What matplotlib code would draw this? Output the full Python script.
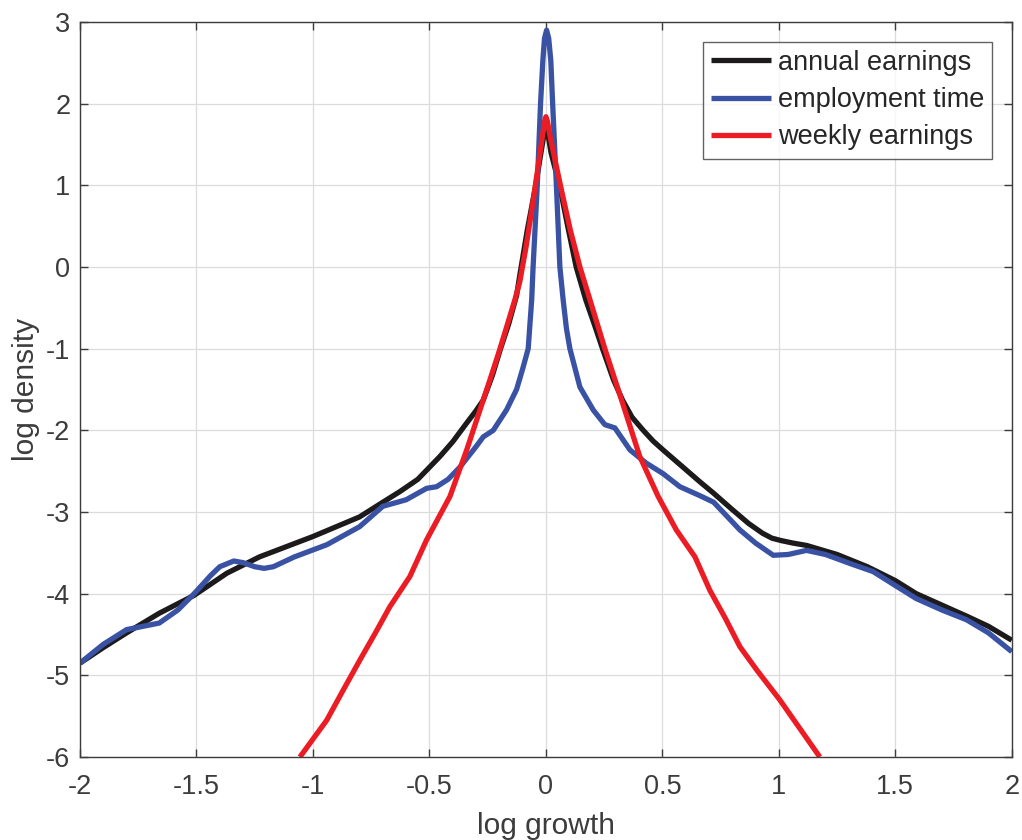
"""Log density of log growth: annual earnings, employment time, weekly earnings."""

import matplotlib
matplotlib.use("Agg")
import matplotlib.pyplot as plt

plt.rcParams["font.family"] = ["Liberation Sans", "DejaVu Sans"]

# values
annual_x = [-2.0, -1.9, -1.8, -1.66, -1.51, -1.37, -1.23, -1.0, -0.8, -0.7, -0.627, -0.55,
            -0.455, -0.4, -0.34, -0.3, -0.269, -0.23, -0.197, -0.16, -0.126, -0.112, -0.08,
            -0.045, -0.02, -0.006, 0.0, 0.007, 0.022, 0.04, 0.06, 0.095, 0.13, 0.171,
            0.21, 0.243, 0.29, 0.329, 0.37, 0.418, 0.46, 0.503, 0.58, 0.661, 0.72, 0.8,
            0.87, 0.93, 0.97, 1.01, 1.06, 1.12, 1.25, 1.38, 1.5, 1.59, 1.7, 1.81, 1.9, 2.0]
annual_y = [-4.85, -4.66, -4.48, -4.24, -4.02, -3.75, -3.55, -3.30, -3.06, -2.88, -2.75, -2.6,
            -2.32, -2.14, -1.91, -1.76, -1.63, -1.33, -1.02, -0.7, -0.35, -0.1, 0.45,
            0.98, 1.42, 1.66, 1.74, 1.66, 1.4, 1.2, 0.98, 0.48, 0.0, -0.4,
            -0.72, -1.0, -1.38, -1.63, -1.84, -2.0, -2.13, -2.24, -2.43, -2.63, -2.77, -2.97,
            -3.14, -3.26, -3.32, -3.35, -3.38, -3.41, -3.52, -3.67, -3.84, -4.0, -4.14, -4.28,
            -4.4, -4.57]

employ_x = [-2.0, -1.9, -1.8, -1.66, -1.58, -1.51, -1.44, -1.4, -1.34, -1.3, -1.25, -1.21,
            -1.17, -1.08, -0.94, -0.8, -0.7, -0.6, -0.512, -0.469, -0.42, -0.369, -0.3,
            -0.269, -0.226, -0.169, -0.126, -0.1, -0.076, -0.061, -0.055, -0.037, -0.023,
            -0.013, -0.006, 0.003, 0.012, 0.021, 0.029, 0.045, 0.06, 0.074, 0.088, 0.103,
            0.146, 0.203, 0.253, 0.296, 0.361, 0.43, 0.503, 0.575, 0.661, 0.72, 0.77, 0.833,
            0.9, 0.976, 1.04, 1.119, 1.2, 1.305, 1.405, 1.5, 1.59, 1.7, 1.806, 1.9, 2.0]
employ_y = [-4.85, -4.62, -4.44, -4.36, -4.2, -4.0, -3.78, -3.67, -3.6, -3.62, -3.67, -3.69,
            -3.67, -3.55, -3.40, -3.18, -2.93, -2.85, -2.71, -2.69, -2.6, -2.45, -2.2,
            -2.08, -2.0, -1.75, -1.5, -1.25, -1.0, -0.4, 0.0, 1.0, 2.0,
            2.53, 2.8, 2.9, 2.8, 2.53, 2.0, 1.0, 0.0, -0.4, -0.75, -1.0,
            -1.47, -1.75, -1.93, -1.97, -2.24, -2.4, -2.53, -2.69, -2.8, -2.88, -3.03, -3.22,
            -3.38, -3.53, -3.52, -3.47, -3.52, -3.63, -3.73, -3.9, -4.06, -4.2, -4.32, -4.48,
            -4.71]

weekly_x = [-1.056, -0.941, -0.87, -0.798, -0.73, -0.67, -0.584, -0.512, -0.412, -0.34,
            -0.283, -0.24, -0.197, -0.133, -0.112, -0.085, -0.058, -0.035, -0.015, -0.005,
            0.0, 0.006, 0.018, 0.04, 0.07, 0.105, 0.146, 0.189, 0.253, 0.325, 0.403, 0.482,
            0.56, 0.64, 0.704, 0.77, 0.833, 0.904, 1.004, 1.09, 1.176]
weekly_y = [-6.0, -5.55, -5.18, -4.81, -4.47, -4.16, -3.79, -3.34, -2.81, -2.24,
            -1.75, -1.38, -1.0, -0.4, -0.18, 0.25, 0.75, 1.2, 1.6, 1.79,
            1.84, 1.79, 1.6, 1.3, 0.9, 0.45, 0.0, -0.4, -1.0, -1.63, -2.32, -2.81,
            -3.22, -3.55, -3.96, -4.3, -4.65, -4.93, -5.30, -5.65, -6.0]

series = [
    ("annual earnings", annual_x, annual_y, "#1c1a1b"),
    ("employment time", employ_x, employ_y, "#3a52a4"),
    ("weekly earnings", weekly_x, weekly_y, "#ec1c24"),
]

fig = plt.figure(figsize=(10.22, 8.4), dpi=100)
ax = fig.add_axes([0.0783, 0.0988, 0.9117, 0.875])

for label, xs, ys, color in series:
    ax.plot(xs, ys, color=color, linewidth=3.8, label=label,
            solid_joinstyle="round", solid_capstyle="butt")

ax.set_xlim(-2, 2)
ax.set_ylim(-6, 3)
ax.set_xticks([-2, -1.5, -1, -0.5, 0, 0.5, 1, 1.5, 2])
ax.set_xticklabels(["-2", "-1.5", "-1", "-0.5", "0", "0.5", "1", "1.5", "2"])
ax.set_yticks(range(-6, 4))
ax.set_yticklabels([str(v) for v in range(-6, 4)])

ax.grid(True, color="#dcdcdc", linewidth=0.9)
ax.set_axisbelow(True)
for sp in ax.spines.values():
    sp.set_color("#3c3c3c")
    sp.set_linewidth(1.0)
ax.tick_params(direction="in", top=True, right=True, length=6, width=1.0,
               colors="#3c3c3c", labelsize=19.5)
ax.tick_params(axis="x", pad=12)
ax.tick_params(axis="y", pad=7)

ax.set_xlabel("log growth", fontsize=21.5, color="#3c3c3c", labelpad=9)
ax.set_ylabel("log density", fontsize=21.5, color="#3c3c3c", labelpad=4)

leg = ax.legend(loc="upper right", fontsize=19.5, frameon=True, fancybox=False,
                edgecolor="#3c3c3c", handlelength=2.2, handletextpad=0.25,
                borderpad=0.3, labelspacing=0.42, borderaxespad=0.72)
leg.get_frame().set_linewidth(1.0)
for t in leg.get_texts():
    t.set_color("#262626")

fig.savefig("out.png", dpi=100)
